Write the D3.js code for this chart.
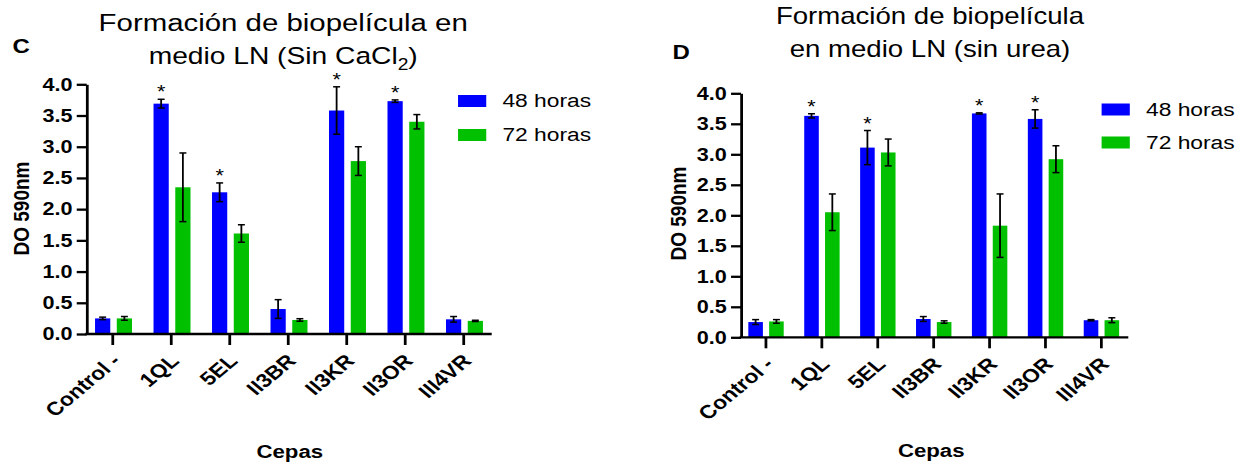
<!DOCTYPE html>
<html>
<head>
<meta charset="utf-8">
<script src="https://cdn.jsdelivr.net/npm/d3@7"></script>
<style>
  html, body { margin: 0; padding: 0; background: #fff; }
  svg { display: block; }
  text { font-family: "Liberation Sans", Arial, sans-serif; fill: #000; }
</style>
</head>
<body>
<div id="chart"></div>
<script>
// Strains on the x axis
const categories = ["Control -", "1QL", "5EL", "II3BR", "II3KR", "II3OR", "III4VR"];
const seriesNames = ["48 horas", "72 horas"];
const yTicks = [0, 0.5, 1.0, 1.5, 2.0, 2.5, 3.0, 3.5, 4.0];

// Panel C: LN medium without CaCl2 (OD 590 nm, mean and error)
const c48 = [0.25, 3.69, 2.27, 0.40, 3.58, 3.73, 0.235];
const c48err = [0.02, 0.07, 0.15, 0.15, 0.38, 0.02, 0.045];
const c72 = [0.25, 2.35, 1.61, 0.225, 2.77, 3.40, 0.21];
const c72err = [0.03, 0.55, 0.14, 0.02, 0.23, 0.115, 0.01];
const cSig = [false, true, true, false, true, true, false];

// Panel D: LN medium without urea
const d48 = [0.25, 3.63, 3.11, 0.30, 3.67, 3.58, 0.28];
const d48err = [0.04, 0.035, 0.28, 0.04, 0.01, 0.15, 0.01];
const d72 = [0.26, 2.05, 3.03, 0.25, 1.83, 2.92, 0.28];
const d72err = [0.03, 0.30, 0.22, 0.02, 0.52, 0.22, 0.04];
const dSig = [false, true, true, false, true, true, false];

const colors = { "48 horas": "#0000ff", "72 horas": "#00c000" };

// Drawing is laid out on a narrower canvas and stretched horizontally to the page width
const PAGE_W = 1236, PAGE_H = 463, SX = 1.2;
const W = PAGE_W / SX;

const svg = d3.select("#chart").append("svg")
  .attr("width", PAGE_W).attr("height", PAGE_H)
  .attr("viewBox", `0 0 ${W} ${PAGE_H}`)
  .attr("preserveAspectRatio", "none");

function panel(cfg) {
  const g = svg.append("g");
  const x = d3.scaleBand().domain(categories).range(cfg.band);
  const xs = d3.scaleBand().domain(seriesNames).range(cfg.inner).paddingInner(0.3);
  const y = d3.scaleLinear().domain([0, 4]).range(cfg.yRange);

  const rows = [];
  categories.forEach((c, i) => {
    rows.push({ cat: c, s: seriesNames[0], v: cfg.v48[i], e: cfg.e48[i], sig: cfg.sig[i] });
    rows.push({ cat: c, s: seriesNames[1], v: cfg.v72[i], e: cfg.e72[i], sig: false });
  });

  // bars
  g.selectAll("rect.bar").data(rows).join("rect")
    .attr("class", "bar")
    .attr("x", d => x(d.cat) + xs(d.s))
    .attr("width", xs.bandwidth())
    .attr("y", d => y(d.v))
    .attr("height", d => y(0) - y(d.v))
    .attr("fill", d => colors[d.s]);

  // error bars
  const cap = 2.9;
  const eb = g.selectAll("g.err").data(rows).join("g").attr("class", "err")
    .attr("stroke", "#000").attr("stroke-width", 1.5);
  const cx = d => x(d.cat) + xs(d.s) + xs.bandwidth() / 2;
  eb.append("line").attr("x1", cx).attr("x2", cx)
    .attr("y1", d => y(d.v + d.e)).attr("y2", d => y(d.v - d.e));
  eb.append("line").attr("x1", d => cx(d) - cap).attr("x2", d => cx(d) + cap)
    .attr("y1", d => y(d.v + d.e)).attr("y2", d => y(d.v + d.e));
  eb.append("line").attr("x1", d => cx(d) - cap).attr("x2", d => cx(d) + cap)
    .attr("y1", d => y(d.v - d.e)).attr("y2", d => y(d.v - d.e));

  // significance marks
  g.selectAll("text.sig").data(rows.filter(d => d.sig)).join("text")
    .attr("class", "sig")
    .attr("x", cx)
    .attr("y", d => y(d.v + d.e) - 1)
    .attr("text-anchor", "middle")
    .attr("font-size", 18)
    .text("*");

  // y axis
  const yAxis = g.append("g")
    .attr("transform", `translate(${cfg.axisX},0)`)
    .call(d3.axisLeft(y).tickValues(yTicks).tickFormat(d3.format(".1f"))
      .tickSize(8.3).tickPadding(3.5).tickSizeOuter(0));
  yAxis.selectAll("path, line").attr("stroke", "#000").attr("stroke-width", 2.3);
  yAxis.selectAll("text").attr("font-size", 18).attr("font-weight", "bold")
    .attr("font-family", "Liberation Sans, Arial, sans-serif").attr("fill", "#000");

  // x axis
  const xAxis = g.append("g")
    .attr("transform", `translate(0,${y(0)})`)
    .call(d3.axisBottom(x).tickSize(11).tickSizeOuter(0).tickFormat(""));
  xAxis.select(".domain").remove();
  xAxis.selectAll("line").attr("stroke", "#000").attr("stroke-width", 2.3);
  g.append("line")
    .attr("x1", cfg.axisX - 1.15).attr("x2", cfg.axisEnd)
    .attr("y1", y(0)).attr("y2", y(0))
    .attr("stroke", "#000").attr("stroke-width", 2.3);

  // rotated category labels
  g.selectAll("text.cat").data(categories).join("text")
    .attr("class", "cat")
    .attr("transform", c => `translate(${x(c) + x.bandwidth() / 2 + 7.5},${y(0) + 28}) rotate(-45)`)
    .attr("text-anchor", "end")
    .attr("font-size", 19).attr("font-weight", "bold")
    .text(c => c);

  // axis titles
  g.append("text")
    .attr("transform", `translate(${cfg.yLabel[0]},${cfg.yLabel[1]}) rotate(-90)`)
    .attr("text-anchor", "middle").attr("dy", "0.35em")
    .attr("font-size", 19).attr("font-weight", "bold")
    .text("DO 590nm");
  g.append("text")
    .attr("x", cfg.xLabel[0]).attr("y", cfg.xLabel[1])
    .attr("text-anchor", "middle")
    .attr("font-size", 18.5).attr("font-weight", "bold")
    .text("Cepas");

  // panel letter
  g.append("text")
    .attr("x", cfg.letter[0]).attr("y", cfg.letter[1])
    .attr("font-size", 20).attr("font-weight", "bold")
    .text(cfg.letterText);

  // title
  g.append("text")
    .attr("x", cfg.titleX).attr("y", cfg.titleY[0])
    .attr("text-anchor", "middle").attr("font-size", cfg.titleSize[0])
    .text(cfg.title1);
  cfg.title2(g.append("text")
    .attr("x", cfg.titleX).attr("y", cfg.titleY[1])
    .attr("text-anchor", "middle").attr("font-size", cfg.titleSize[1]));

  // legend
  const lg = g.append("g");
  seriesNames.forEach((s, i) => {
    lg.append("rect")
      .attr("x", cfg.legend[0]).attr("y", cfg.legend[1] + i * cfg.legendGap)
      .attr("width", 23.5).attr("height", 12)
      .attr("fill", colors[s]);
    lg.append("text")
      .attr("x", cfg.legend[0] + 37).attr("y", cfg.legend[1] + i * cfg.legendGap + 12.5)
      .attr("font-size", 19)
      .text(s);
  });
}

panel({
  band: [69.6, 410.8], inner: [9.6, 40.4], yRange: [334, 84.3],
  axisX: 72.25, axisEnd: 409.75,
  v48: c48, e48: c48err, v72: c72, e72: c72err, sig: cSig,
  yLabel: [17.1, 208.5], xLabel: [241.5, 458],
  letter: [10.5, 53], letterText: "C",
  titleX: 236, titleY: [31.5, 64.5], titleSize: [24.5, 23.5],
  title1: "Formación de biopelícula en",
  title2: t => {
    t.append("tspan").text("medio LN (Sin CaCl");
    t.append("tspan").attr("font-size", 16).attr("dy", 6).text("2");
    t.append("tspan").attr("dy", -6).text(")");
  },
  legend: [381.7, 95], legendGap: 34
});

panel({
  band: [615.0, 941.1], inner: [8.6, 38.1], yRange: [337.3, 93.3],
  axisX: 617.5, axisEnd: 940.25,
  v48: d48, e48: d48err, v72: d72, e72: d72err, sig: dSig,
  yLabel: [564.6, 213.5], xLabel: [776, 457],
  letter: [560.5, 59.5], letterText: "D",
  titleX: 775, titleY: [24, 57], titleSize: [23, 23],
  title1: "Formación de biopelícula",
  title2: t => t.text("en medio LN (sin urea)"),
  legend: [918, 103.5], legendGap: 33
});
</script>
</body>
</html>
